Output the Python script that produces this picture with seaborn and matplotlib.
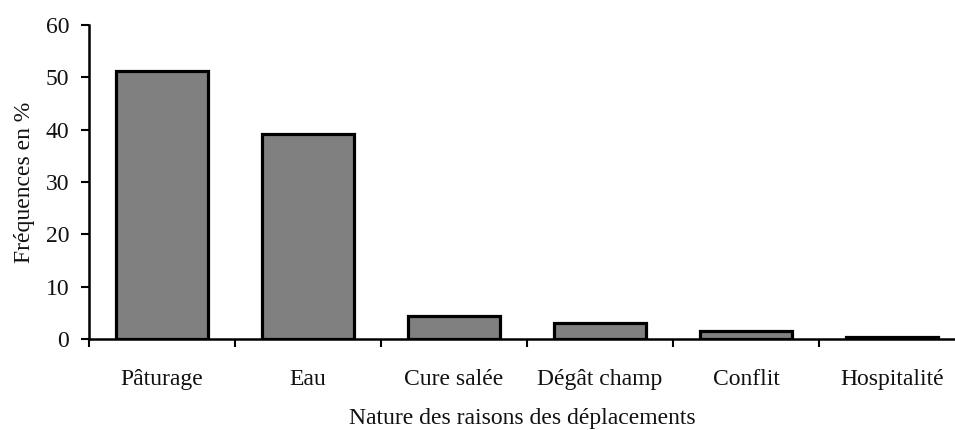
import numpy as np
import matplotlib
matplotlib.use('Agg')
import matplotlib.pyplot as plt
import seaborn as sns
import pandas as pd

sns.set_style('ticks')
plt.rcParams['font.family'] = ['Liberation Serif', 'DejaVu Serif']

categories = ['Pâturage', 'Eau', 'Cure salée', 'Dégât champ', 'Conflit', 'Hospitalité']
frequences = [51.2, 39.2, 4.3, 3.0, 1.5, 0.4]
y_ticks = [0, 10, 20, 30, 40, 50, 60]

df = pd.DataFrame({'raison': categories, 'freq': frequences})

fig = plt.figure(figsize=(9.55, 4.3), dpi=100)
ax = fig.add_axes([0.093, 0.212, 0.907, 0.730])

sns.barplot(data=df, x='raison', y='freq', color='#808080', saturation=1,
            edgecolor='black', linewidth=2.3, width=0.63, ax=ax)

ax.set_ylim(0, 60)
ax.set_yticks(y_ticks)
ax.set_xlim(-0.5, 5.43)
ax.set_xticks(np.arange(-0.5, 5.0, 1.0), minor=True)
ax.tick_params(axis='x', which='major', length=0, pad=22, labelsize=17, colors='#111111')
ax.tick_params(axis='x', which='minor', length=6, width=1.5, direction='out', color='black')
ax.tick_params(axis='y', length=6, width=1.5, direction='out', pad=8, labelsize=17, colors='#111111')
ax.tick_params(axis='y', color='black')

ax.set_xlabel('Nature des raisons des déplacements', fontsize=17, labelpad=13, color='#111111')
ax.set_ylabel('Fréquences en %', fontsize=17, labelpad=8, color='#111111')

sns.despine(ax=ax)
for s in ['left', 'bottom']:
    ax.spines[s].set_linewidth(1.8)
    ax.spines[s].set_color('black')

fig.savefig('out.png', dpi=100)
plt.close(fig)
